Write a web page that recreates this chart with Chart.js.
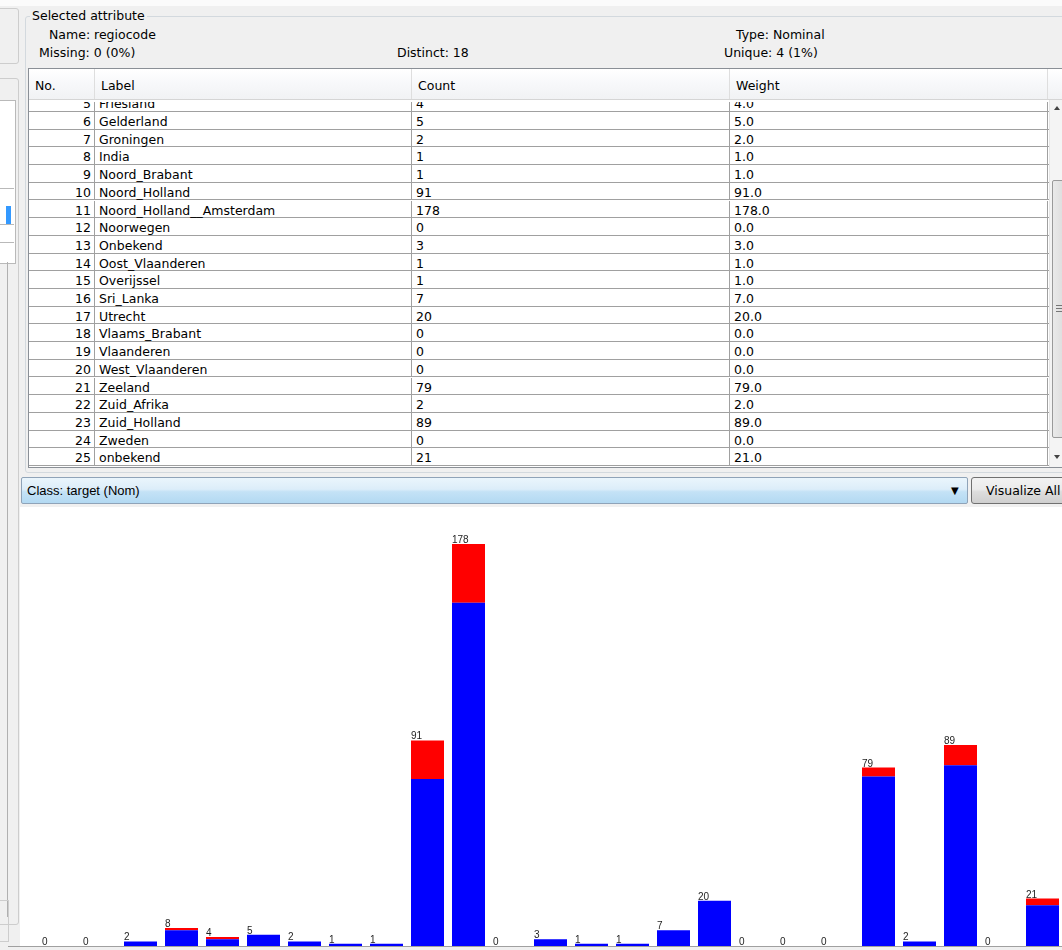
<!DOCTYPE html>
<html>
<head>
<meta charset="utf-8">
<script src="https://cdn.jsdelivr.net/npm/chart.js@4.4.1/dist/chart.umd.min.js"></script>
<style>
html,body{margin:0;padding:0;width:1062px;height:950px;overflow:hidden;background:#f0f0f0;
  font-family:"DejaVu Sans",Tahoma,sans-serif;font-size:12.5px;color:#000;}
.a{position:absolute;white-space:nowrap;}
#topband{left:0;top:0;width:1062px;height:6px;background:#fbfbfb;}
#fieldset{left:25px;top:16px;width:1060px;height:455px;border:1px solid #d3d9de;border-radius:3px;}
#fstitle{left:30px;top:8px;padding:0 2px;background:#f0f0f0;line-height:16px;}
.info{line-height:16px;}
#table{left:28px;top:68px;width:1040px;height:398px;border:1px solid #8a8f96;background:#fff;overflow:hidden;}
#thead{left:0;top:0;width:1040px;height:30px;background:linear-gradient(#ffffff,#f7f8fa 50%,#f1f2f4);border-bottom:1px solid #d5d5d5;}
.th{top:0;height:30px;line-height:33px;border-right:1px solid #dedede;padding-left:6px;box-sizing:border-box;}
#tbody{left:0;top:33px;width:1020px;height:365px;overflow:hidden;}
.row{left:0;width:1020px;height:17.7px;box-sizing:border-box;border-bottom:1px solid #a0a0a0;}
.cell{top:0;height:17px;line-height:19px;box-sizing:border-box;border-right:1px solid #a0a0a0;}
#scroll{left:1020px;top:31px;width:14px;height:367px;background:#f4f4f4;border-left:1px solid #e6e6e6;}
#thumb{left:2px;top:80px;width:12px;height:256px;background:linear-gradient(90deg,#eaeaea,#dcdcdc);border:1px solid #9a9a9a;border-radius:2px;}
#combo{left:21px;top:477px;width:945px;height:25px;border:1px solid #8fa3b8;border-radius:2px;
  background:linear-gradient(#eaf5fc,#dcedf9 45%,#c4e2f6 55%,#b3d9f2);}
#combotext{left:5px;top:0;line-height:25px;font-family:"Liberation Sans Narrow","Liberation Sans",Arial,sans-serif;font-size:13px;}
#arrow{left:929px;top:0;line-height:25px;font-size:10px;}
#btn{left:971px;top:477px;width:110px;height:25px;border:1px solid #707070;border-radius:3px;
  background:linear-gradient(#f2f2f2,#ebebeb 45%,#dddddd 55%,#cfcfcf);}
#btntext{left:14px;top:0;line-height:25px;font-family:"DejaVu Sans",Tahoma,sans-serif;font-size:12.5px;}
#chartbg{left:20px;top:507px;width:1050px;height:440px;background:#fff;}
#bottomline{left:8px;top:946px;width:1060px;height:1px;background:#a0a0a0;}
#cv{position:absolute;left:0;top:508px;}
</style>
</head>
<body>
<div class="a" id="topband"></div>
<!-- left side strip (neighbouring panel) -->
<div class="a" style="left:-4px;top:8px;width:21px;height:54px;border:1px solid #cdcdcd;border-radius:3px;"></div>
<div class="a" style="left:-4px;top:78px;width:21px;height:845px;border:1px solid #cdcdcd;border-radius:3px;"></div>
<div class="a" style="left:-2px;top:100px;width:16px;height:162px;background:#fff;border:1px solid #b9b9b9;"></div>
<div class="a" style="left:0;top:188px;width:14px;height:1px;background:#b9b9b9;"></div>
<div class="a" style="left:0;top:224px;width:14px;height:1px;background:#b9b9b9;"></div>
<div class="a" style="left:0;top:242px;width:14px;height:1px;background:#b9b9b9;"></div>
<div class="a" style="left:6px;top:206px;width:5px;height:18px;background:#3399ff;"></div>
<div class="a" style="left:7px;top:262px;width:1px;height:655px;background:#b0b0b0;"></div>
<div class="a" style="left:-4px;top:900px;width:11px;height:40px;border:1px solid #cdcdcd;"></div>

<div class="a" id="fieldset"></div>
<div class="a" id="fstitle">Selected attribute</div>
<div class="a info" id="nameL" style="left:49px;top:27px;"></div>
<div class="a info" id="missL" style="left:39px;top:45px;"></div>
<div class="a info" id="distL" style="left:397px;top:45px;"></div>
<div class="a info" id="typeL" style="left:736px;top:27px;"></div>
<div class="a info" id="uniqL" style="left:724px;top:45px;"></div>

<div class="a" id="table">
  <div class="a" id="thead"></div>
  <div class="a" id="tbody"></div>
  <div class="a" id="scroll">
    <div class="a" style="left:4px;top:6px;width:0;height:0;border-left:3px solid transparent;border-right:3px solid transparent;border-bottom:4px solid #444;"></div>
    <div class="a" id="thumb">
      <div class="a" style="left:3px;top:124px;width:6px;height:1px;background:#777;"></div>
      <div class="a" style="left:3px;top:127px;width:6px;height:1px;background:#777;"></div>
      <div class="a" style="left:3px;top:130px;width:6px;height:1px;background:#777;"></div>
    </div>
    <div class="a" style="left:4px;top:355px;width:0;height:0;border-left:3px solid transparent;border-right:3px solid transparent;border-top:4px solid #444;"></div>
  </div>
</div>

<div class="a" id="combo"><div class="a" id="combotext"></div><div class="a" id="arrow">&#9660;</div></div>
<div class="a" id="btn"><div class="a" id="btntext">Visualize All</div></div>

<div class="a" id="chartbg"></div>
<div class="a" id="bottomline"></div>
<canvas id="cv" width="1064" height="440"></canvas>

<script>
// ---- data ----
const attributeName = "regiocode";
const attributeType = "Nominal";
const missingText = "0 (0%)";
const distinctText = "18";
const uniqueText = "4 (1%)";
const classText = "target (Nom)";
const columnHeaders = ["No.", "Label", "Count", "Weight"];

// category numbers 1..25 (names of 1-4 are scrolled out of view in the table)
const regionNumbers = [1,2,3,4,5,6,7,8,9,10,11,12,13,14,15,16,17,18,19,20,21,22,23,24,25];
const regionNames = [null, null, null, null, "Friesland", "Gelderland", "Groningen", "India",
  "Noord_Brabant", "Noord_Holland", "Noord_Holland__Amsterdam", "Noorwegen", "Onbekend",
  "Oost_Vlaanderen", "Overijssel", "Sri_Lanka", "Utrecht", "Vlaams_Brabant", "Vlaanderen",
  "West_Vlaanderen", "Zeeland", "Zuid_Afrika", "Zuid_Holland", "Zweden", "onbekend"];
const counts    = [0, 0, 2, 8, 4, 5, 2, 1, 1, 91, 178, 0, 3, 1, 1, 7, 20, 0, 0, 0, 79, 2, 89, 0, 21];
const weights   = ["0.0","0.0","2.0","8.0","4.0","5.0","2.0","1.0","1.0","91.0","178.0","0.0","3.0","1.0","1.0","7.0","20.0","0.0","0.0","0.0","79.0","2.0","89.0","0.0","21.0"];
// class split (blue = first class value, red = second)
const classBlue = [0, 0, 2, 7, 3, 5, 2, 1, 1, 74, 152, 0, 3, 1, 1, 7, 20, 0, 0, 0, 75, 2, 80, 0, 18];
const classRed  = [0, 0, 0, 1, 1, 0, 0, 0, 0, 17, 26, 0, 0, 0, 0, 0, 0, 0, 0, 0, 4, 0, 9, 0, 3];
const firstVisibleRow = 5;

// ---- header texts ----
document.getElementById('nameL').textContent = "Name: " + attributeName;
document.getElementById('missL').textContent = "Missing: " + missingText;
document.getElementById('distL').textContent = "Distinct: " + distinctText;
document.getElementById('typeL').textContent = "Type: " + attributeType;
document.getElementById('uniqL').textContent = "Unique: " + uniqueText;
document.getElementById('combotext').textContent = "Class: " + classText;

// ---- table ----
const colX = [0, 66, 383, 701];      // relative to table left (page x 29)
const colW = [66, 317, 318, 318];
const thead = document.getElementById('thead');
columnHeaders.forEach((h, i) => {
  const d = document.createElement('div');
  d.className = 'a th'; d.style.left = colX[i] + 'px'; d.style.width = colW[i] + 'px';
  d.textContent = h; thead.appendChild(d);
});
const tbody = document.getElementById('tbody');
const rowH = 17.7;
const firstFullTop = 10; // top of row 6 inside body
regionNumbers.forEach((n, i) => {
  if (n < firstVisibleRow) return;
  const r = document.createElement('div');
  r.className = 'a row';
  r.style.top = (firstFullTop + (n - 6) * rowH) + 'px';
  const vals = [String(n), regionNames[i], String(counts[i]), weights[i]];
  vals.forEach((v, c) => {
    const d = document.createElement('div');
    d.className = 'a cell';
    d.style.left = colX[c] + 'px'; d.style.width = colW[c] + 'px';
    if (c === 0) { d.style.textAlign = 'right'; d.style.paddingRight = '3px'; }
    else d.style.paddingLeft = '4px';
    d.textContent = v; r.appendChild(d);
  });
  tbody.appendChild(r);
});

// ---- chart ----
const totalLabels = {
  id: 'totalLabels',
  afterDatasetsDraw(chart) {
    const ctx = chart.ctx, meta = chart.getDatasetMeta(0), ys = chart.scales.y;
    ctx.save();
    ctx.font = '10px "Liberation Sans", Arial, sans-serif';
    ctx.fillStyle = '#1e1e1e';
    ctx.textAlign = 'left';
    ctx.textBaseline = 'alphabetic';
    counts.forEach((c, i) => {
      const el = meta.data[i];
      const left = el.x - el.width / 2;
      ctx.fillText(String(c), Math.round(left), Math.round(ys.getPixelForValue(c)) - 1);
    });
    ctx.restore();
  }
};

new Chart(document.getElementById('cv'), {
  type: 'bar',
  data: {
    labels: regionNumbers,
    datasets: [
      { data: classBlue, backgroundColor: '#0000ff', borderWidth: 0 },
      { data: classRed,  backgroundColor: '#ff0000', borderWidth: 0 }
    ]
  },
  options: {
    responsive: false,
    animation: false,
    events: [],
    layout: { padding: { left: 38, right: 1, top: 36, bottom: 2 } },
    datasets: { bar: { categoryPercentage: 1, barPercentage: 33 / 41 } },
    plugins: { legend: { display: false }, tooltip: { enabled: false } },
    scales: {
      x: { stacked: true, display: false },
      y: { stacked: true, display: false, min: 0, max: Math.max(...counts) }
    }
  },
  plugins: [totalLabels]
});
</script>
</body>
</html>
